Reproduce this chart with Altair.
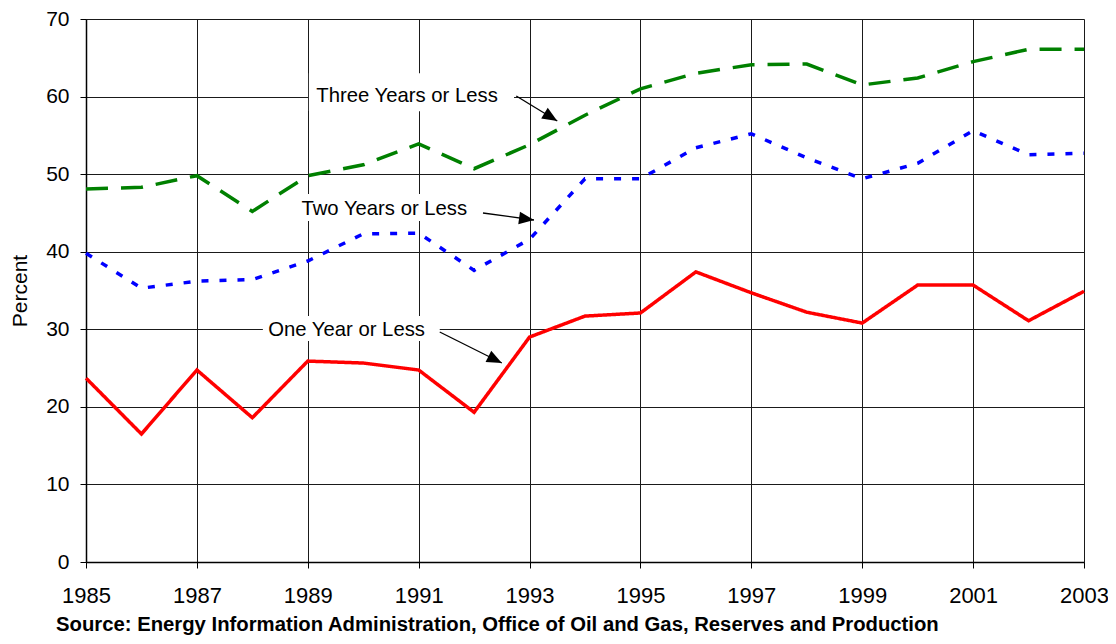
import math
import altair as alt
import pandas as pd

years = list(range(1985, 2004))
one_year = [23.7, 16.5, 24.75, 18.6, 25.9, 25.65, 24.75, 19.3, 29.0, 31.7, 32.1,
            37.4, 34.7, 32.2, 30.8, 35.7, 35.7, 31.1, 34.9]
two_years = [39.8, 35.3, 36.2, 36.4, 38.8, 42.3, 42.4, 37.6, 41.6, 49.4, 49.4,
             53.4, 55.2, 52.1, 49.4, 51.4, 55.6, 52.5, 52.7]
three_years = [48.1, 48.3, 49.8, 45.2, 49.8, 51.2, 53.9, 50.7, 53.8, 57.6, 61.0,
               63.0, 64.1, 64.2, 61.5, 62.4, 64.5, 66.1, 66.1]

series_names = ["One Year or Less", "Two Years or Less", "Three Years or Less"]
series_colors = ["#ff0000", "#0000ff", "#008000"]
series_dash = [[1, 0], [7, 11], [22, 13]]

# annotation labels (text, center x/y in data units)
label_text = ["Three Years or Less", "Two Years or Less", "One Year or Less"]
label_x = [1990.79, 1990.38, 1989.70]
label_y = [60.1, 45.5, 29.9]
# white boxes behind the labels
box_x1 = [1989.02, 1988.79, 1988.19]
box_x2 = [1992.72, 1991.96, 1991.38]
box_y1 = [58.1, 43.96, 28.49]
box_y2 = [63.0, 47.44, 31.71]
# arrows
arrow_x1 = [1992.76, 1992.16, 1991.38]
arrow_y1 = [60.07, 44.99, 29.65]
arrow_x2 = [1993.50, 1993.08, 1992.50]
arrow_y2 = [56.85, 44.09, 25.65]

source_text = "Source: Energy Information Administration, Office of Oil and Gas, Reserves and Production"

W, H = 998, 543
FONT = "Liberation Sans"
px_per_year = W / 18.0
px_per_unit = H / 70.0

rows = []
for name, vals in zip(series_names, [one_year, two_years, three_years]):
    for yr, v in zip(years, vals):
        rows.append({"year": yr, "value": v, "series": name})
df = pd.DataFrame(rows)

ann = pd.DataFrame({
    "text": label_text, "lx": label_x, "ly": label_y,
    "bx1": box_x1, "bx2": box_x2, "by1": box_y1, "by2": box_y2,
    "ax1": arrow_x1, "ay1": arrow_y1, "ax2": arrow_x2, "ay2": arrow_y2,
})
ann["angle"] = [
    (math.degrees(math.atan2((y1 - y2) * px_per_unit, (x2 - x1) * px_per_year)) + 360) % 360
    for x1, y1, x2, y2 in zip(arrow_x1, arrow_y1, arrow_x2, arrow_y2)
]

xscale = alt.Scale(domain=[1985, 2003], nice=False, zero=False)
yscale = alt.Scale(domain=[0, 70], nice=False)

xaxis = alt.Axis(values=list(range(1985, 2004, 2)), format="d", title=None,
                 grid=True, gridColor="#1a1a1a", gridWidth=1,
                 domainColor="#000", domainWidth=1.5, tickColor="#000", tickSize=6,
                 labelFont=FONT, labelFontSize=22, labelColor="#000", labelPadding=17,
                 labelFlush=False)
yaxis = alt.Axis(values=list(range(0, 71, 10)), title="Percent",
                 grid=True, gridColor="#1a1a1a", gridWidth=1,
                 domainColor="#000", domainWidth=1.5, tickColor="#000", tickSize=6,
                 labelFont=FONT, labelFontSize=21, labelColor="#000", labelPadding=11,
                 titleFont=FONT, titleFontSize=21, titleFontWeight="normal", titleColor="#000",
                 titleAngle=-90, titleBaseline="alphabetic", titleAlign="center",
                 titleX=-60, titleY=H / 2)

base = alt.Chart(df)

lines = base.mark_line(strokeWidth=3.5).encode(
    x=alt.X("year:Q", scale=xscale, axis=xaxis),
    y=alt.Y("value:Q", scale=yscale, axis=yaxis),
    color=alt.Color("series:N", scale=alt.Scale(domain=series_names, range=series_colors), legend=None),
    strokeDash=alt.StrokeDash("series:N", scale=alt.Scale(domain=series_names, range=series_dash), legend=None),
)

annb = alt.Chart(ann)
boxes = annb.mark_rect(color="white").encode(
    x=alt.X("bx1:Q", scale=xscale), x2="bx2:Q",
    y=alt.Y("by1:Q", scale=yscale), y2="by2:Q",
)
texts = annb.mark_text(font=FONT, fontSize=20.3, color="#000", align="center", baseline="middle").encode(
    x=alt.X("lx:Q", scale=xscale), y=alt.Y("ly:Q", scale=yscale), text="text:N",
)
arrows = annb.mark_rule(color="#000", strokeWidth=1.3).encode(
    x=alt.X("ax1:Q", scale=xscale), y=alt.Y("ay1:Q", scale=yscale),
    x2="ax2:Q", y2="ay2:Q",
)
heads = annb.mark_point(shape="M0,0L-1,-0.42L-1,0.42Z", filled=True, color="#000",
                        opacity=1, size=900, strokeWidth=0).encode(
    x=alt.X("ax2:Q", scale=xscale), y=alt.Y("ay2:Q", scale=yscale),
    angle=alt.Angle("angle:Q", scale=None),
)

footer = alt.Chart(pd.DataFrame({"t": [source_text]})).mark_text(
    font=FONT, fontSize=20.3, fontWeight="bold", color="#000", align="left", baseline="alphabetic"
).encode(x=alt.value(-30), y=alt.value(612), text="t:N")

chart = alt.layer(boxes, lines, texts, arrows, heads, footer).properties(
    width=W, height=H,
    autosize=alt.AutoSizeParams(type="none"),
    padding={"left": 78, "top": 11, "right": 24, "bottom": 74},
).configure_view(stroke="#999999", strokeWidth=2).configure(background="white")

chart.save("out.html", embed_options={"renderer": "svg", "actions": False})
